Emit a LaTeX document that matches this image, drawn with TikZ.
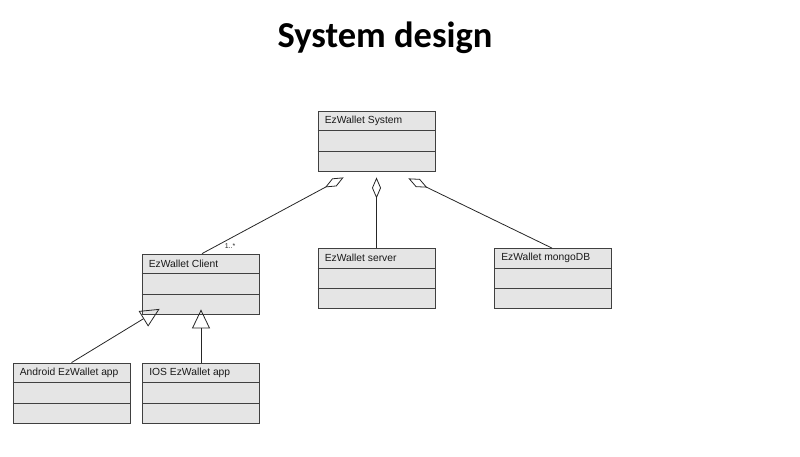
\documentclass[tikz,border=0pt]{standalone}
\usepackage{fontspec}
\setmainfont{Liberation Sans}
\newfontfamily\titlefont{Carlito}
\usetikzlibrary{arrows.meta,calc}
\begin{document}
\begin{tikzpicture}[x=1pt,y=-1pt,
  cls/.style={draw=black!75, fill=black!10, line width=0.8pt, minimum width=117pt, minimum height=60pt, inner sep=0pt},
  lbl/.style={anchor=west, font=\fontsize{10.3}{12}\selectfont, inner sep=0pt, text=black!90},
  conn/.style={draw=black!85, line width=0.8pt},
  agg/.style={conn, {Diamond[open,length=21pt,width=9pt,line width=0.8pt]}-},
  gen/.style={conn, -{Triangle[open,length=19pt,width=18pt,line width=0.8pt]}}
]
\useasboundingbox (0,0) rectangle (800,456);
\node[font=\titlefont\bfseries\fontsize{36.5}{42}\selectfont] (title) at (385,38) {System design};

\newcommand{\umlclass}[4]{%
  \node[cls] (#1) at (#2,#3) {};
  \draw[draw=black!75, line width=0.8pt] ($(#1.north west)!1/3!(#1.south west)$) -- ($(#1.north east)!1/3!(#1.south east)$);
  \draw[draw=black!75, line width=0.8pt] ($(#1.north west)!2/3!(#1.south west)$) -- ($(#1.north east)!2/3!(#1.south east)$);
  \node[lbl] (#1-name) at ($(#1.north west)+(7,10)$) {#4};
}
\umlclass{sys}{376.5}{141}{EzWallet System}
\umlclass{cli}{200.5}{284}{EzWallet Client}
\umlclass{srv}{376.5}{278.5}{EzWallet server}
\umlclass{mdb}{553}{278.5}{EzWallet mongoDB}
\umlclass{and}{71.5}{393}{Android EzWallet app}
\umlclass{ios}{201}{393}{IOS EzWallet app}

\draw[agg] ([xshift=26pt,yshift=-6pt]sys.south west) -- ([xshift=1.5pt]cli.north);
\draw[agg] ([yshift=-6pt]sys.south) -- (srv.north);
\draw[agg] ([xshift=-27pt,yshift=-7pt]sys.south east) -- ([xshift=-1pt]mdb.north);
\node[font=\fontsize{7}{8}\selectfont, text=black!85, inner sep=0pt] (mult) at (230,246) {1..*};

\draw[gen] (and.north) -- ([xshift=18pt,yshift=5.5pt]cli.south west);
\draw[gen] (ios.north) -- ([yshift=5pt]ios.north |- cli.south);
\end{tikzpicture}
\end{document}
